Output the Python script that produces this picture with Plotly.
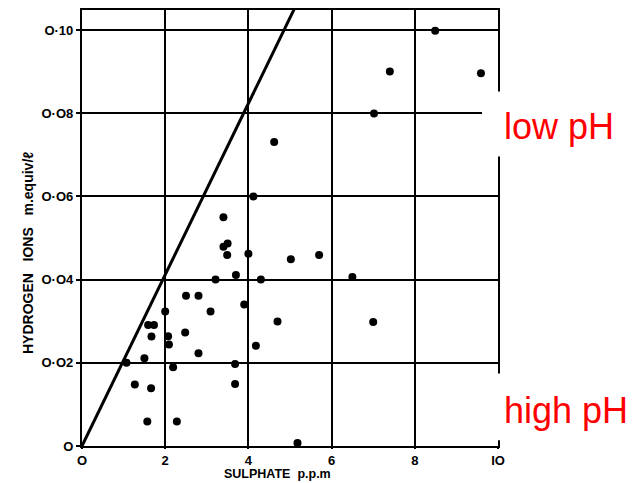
import plotly.graph_objects as go

# --- data ---
sulphate = [1.07, 1.27, 1.50, 1.57, 1.59, 1.66, 1.67, 1.73, 2.00, 2.07, 2.09, 2.19,
            2.28, 2.48, 2.50, 2.80, 2.80, 3.09, 3.21, 3.40, 3.40, 3.50, 3.49, 3.68,
            3.68, 3.70, 3.90, 4.00, 4.12, 4.18, 4.30, 4.62, 4.70, 5.02, 5.18, 5.70,
            6.50, 7.00, 7.02, 7.40, 8.49, 9.59]
hydrogen = [0.0200, 0.0148, 0.0211, 0.0059, 0.0291, 0.0139, 0.0263, 0.0291, 0.0323,
            0.0264, 0.0244, 0.0189, 0.0059, 0.0273, 0.0361, 0.0361, 0.0223, 0.0323,
            0.0400, 0.0550, 0.0479, 0.0487, 0.0459, 0.0197, 0.0149, 0.0411, 0.0340,
            0.0462, 0.0600, 0.0241, 0.0400, 0.0731, 0.0299, 0.0449, 0.0007, 0.0459,
            0.0406, 0.0298, 0.0799, 0.0900, 0.0998, 0.0896]

line_x = [0.0, 5.1]
line_y = [0.0, 0.105]

x_tickvals = [0, 2, 4, 6, 8, 10]
x_ticktext = ["O", "2", "4", "6", "8", "IO"]
y_tickvals = [0, 0.02, 0.04, 0.06, 0.08, 0.10]
y_ticktext = ["O", "O·O2", "O·O4", "O·O6", "O·O8", "O·10"]

fig = go.Figure()
fig.add_trace(go.Scatter(x=line_x, y=line_y, mode="lines",
                         line=dict(color="black", width=3),
                         hoverinfo="skip", showlegend=False))
fig.add_trace(go.Scatter(x=sulphate, y=hydrogen, mode="markers",
                         marker=dict(color="black", size=8),
                         showlegend=False))

axis_common = dict(showgrid=True, gridcolor="black", gridwidth=1.8,
                   showline=True, linecolor="black", linewidth=2.2, mirror=True,
                   zeroline=False, tickcolor="black", tickwidth=1.5,
                   tickfont=dict(family="Liberation Sans", size=13, color="black", weight="bold"))

fig.update_xaxes(range=[0, 10], tickvals=x_tickvals, ticktext=x_ticktext,
                 ticks="outside", ticklen=1, **axis_common)
fig.update_yaxes(range=[0, 0.1048], tickvals=y_tickvals, ticktext=y_ticktext,
                 ticks="outside", ticklen=4, **axis_common)

fig.update_layout(
    width=644, height=483,
    margin=dict(l=74, r=154, t=0, b=45),
    paper_bgcolor="white", plot_bgcolor="white",
    shapes=[
        dict(type="rect", xref="paper", yref="paper", x0=0.9615, x1=1.4, y0=0.664, y1=0.813,
             fillcolor="white", line=dict(width=0), layer="above"),
        dict(type="rect", xref="paper", yref="paper", x0=0.990, x1=1.4, y0=0.013, y1=0.166,
             fillcolor="white", line=dict(width=0), layer="above"),
    ],
    annotations=[
        dict(text="low pH", xref="paper", yref="paper", x=1.009, y=0.733,
             xanchor="left", yanchor="middle", showarrow=False,
             font=dict(family="Liberation Sans", size=36, color="red")),
        dict(text="high pH", xref="paper", yref="paper", x=1.009, y=0.082,
             xanchor="left", yanchor="middle", showarrow=False,
             font=dict(family="Liberation Sans", size=36, color="red")),
        dict(text="SULPHATE  p.p.m", xref="paper", yref="paper", x=0.471, y=-0.064,
             xanchor="center", yanchor="middle", showarrow=False,
             font=dict(family="Liberation Sans", size=12.5, color="black", weight="bold")),
        dict(text="HYDROGEN   IONS   m.equiv/ℓ", xref="paper", yref="paper",
             x=-0.13, y=0.4425, textangle=-90,
             xanchor="center", yanchor="middle", showarrow=False,
             font=dict(family="Liberation Sans", size=14, color="black", weight="bold")),
    ],
)

fig.write_html("out.html")
